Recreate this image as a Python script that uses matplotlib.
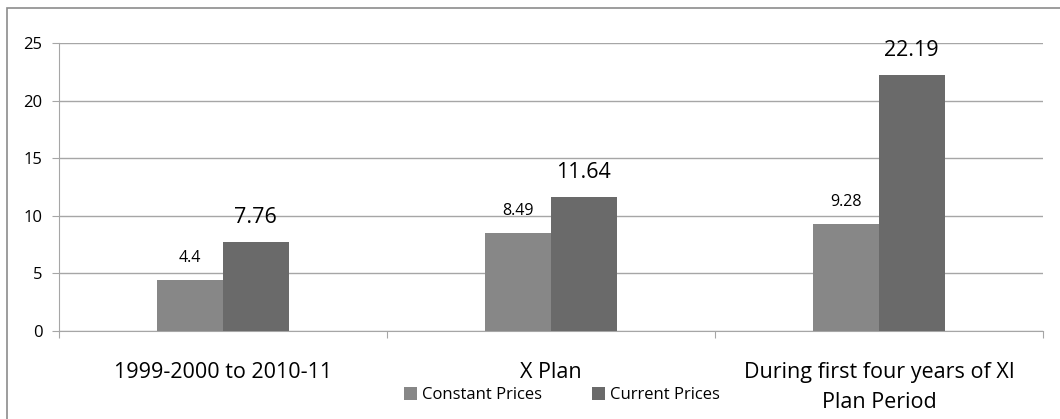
import matplotlib
matplotlib.use("Agg")
import matplotlib.pyplot as plt
from matplotlib.patches import Rectangle
import numpy as np

plt.rcParams['font.family'] = ['Open Sans', 'DejaVu Sans']

categories = ["1999-2000 to 2010-11", "X Plan", "During first four years of XI\nPlan Period"]
constant_prices = [4.4, 8.49, 9.28]
current_prices = [7.76, 11.64, 22.19]
series_names = ["Constant Prices", "Current Prices"]
yticks = [0, 5, 10, 15, 20, 25]

W, H = 1060, 419
fig = plt.figure(figsize=(W / 100, H / 100), dpi=100)
ax = fig.add_axes([59 / W, (H - 331) / H, (1043 - 59) / W, (331 - 43) / H])

x = np.arange(len(categories))
bw = 0.2
c_const = "#878787"
c_curr = "#6a6a6a"
grey = "#a6a6a6"
b1 = ax.bar(x - bw / 2, constant_prices, bw, color=c_const, label=series_names[0], zorder=3)
b2 = ax.bar(x + bw / 2, current_prices, bw, color=c_curr, label=series_names[1], zorder=3)

for rect, v in zip(b1, constant_prices):
    ax.annotate(f"{v:g}", (rect.get_x() + rect.get_width() / 2, v), xytext=(0, 10),
                textcoords="offset points", ha="center", va="bottom", fontsize=11.5)
for rect, v in zip(b2, current_prices):
    ax.annotate(f"{v:g}", (rect.get_x() + rect.get_width() / 2, v), xytext=(0, 10),
                textcoords="offset points", ha="center", va="bottom", fontsize=15.5)

ax.set_xlim(-0.5, len(categories) - 0.5)
ax.set_ylim(0, 25)
ax.set_yticks(yticks)
ax.yaxis.grid(True, color=grey, linewidth=1, zorder=0)
ax.set_axisbelow(True)
ax.tick_params(axis="y", length=5, color=grey, labelsize=12, pad=7)

for s in ["top", "right"]:
    ax.spines[s].set_visible(False)
ax.spines["left"].set_color(grey)
ax.spines["bottom"].set_color(grey)

# category boundaries carry the ticks; names sit at the centres
ax.set_xticks(np.arange(len(categories) + 1) - 0.5)
ax.set_xticklabels([])
ax.tick_params(axis="x", length=5, color=grey)
ax.set_xticks(x, minor=True)
ax.set_xticklabels(categories, minor=True, fontsize=15.5, linespacing=1.62)
ax.tick_params(axis="x", which="minor", length=0, pad=22)
for lbl in ax.get_xticklabels(minor=True):
    lbl.set_verticalalignment("top")

fig.legend(handles=[b1, b2], labels=series_names, loc="center",
           bbox_to_anchor=(562 / W, 1 - 395 / H),
           ncol=2, frameon=False, fontsize=12, handlelength=0.8, handleheight=0.8,
           handletextpad=0.3, columnspacing=3.0, borderpad=0, borderaxespad=0)

# chart frame, running past the right and bottom edges
fig.patches.append(Rectangle((7 / W, -10 / H), (W + 20) / W, (H - 8 + 10) / H,
                             transform=fig.transFigure, fill=False,
                             edgecolor="#8c8c8c", linewidth=1.2))

fig.savefig("out.png", dpi=100)
